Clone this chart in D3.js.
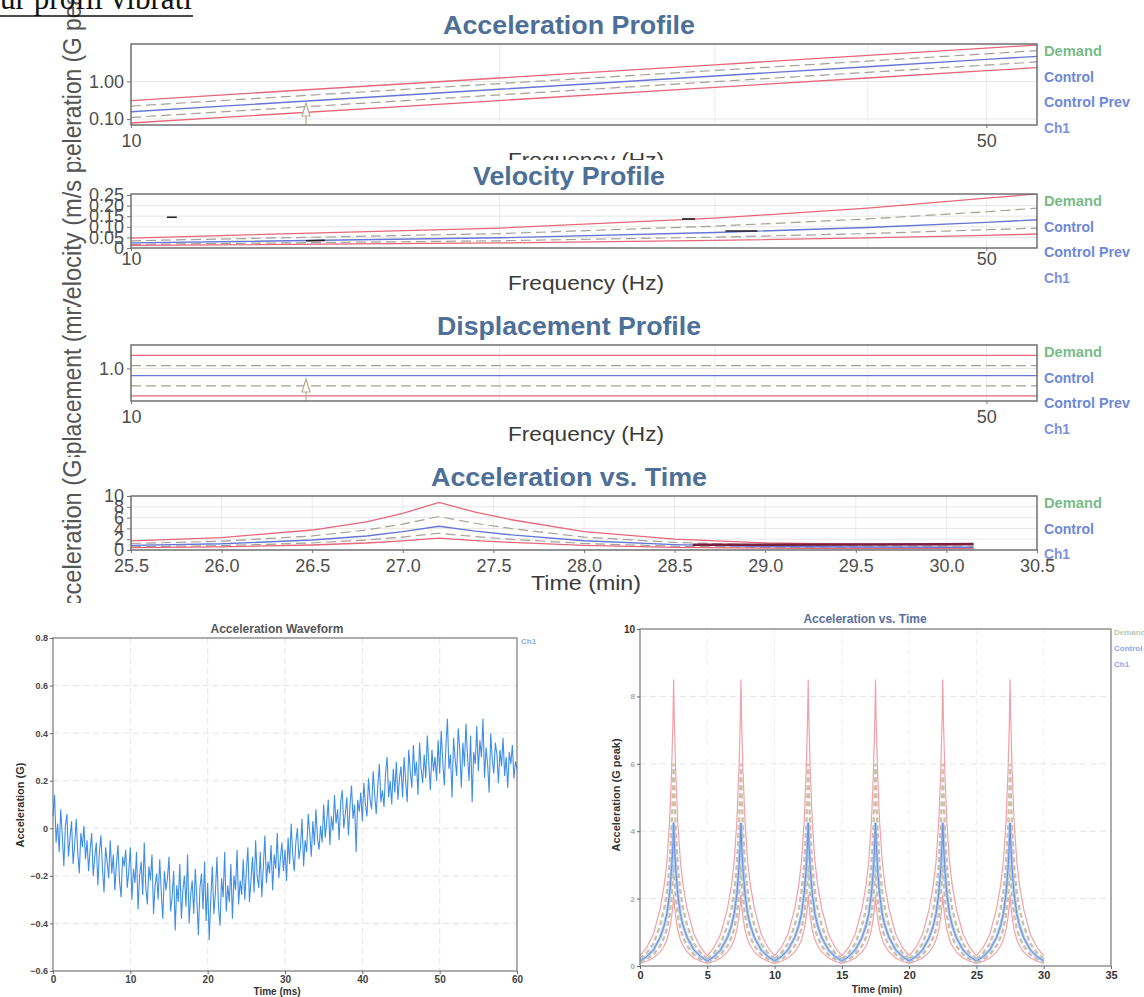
<!DOCTYPE html>
<html>
<head>
<meta charset="utf-8">
<script src="https://cdn.jsdelivr.net/npm/d3@7"></script>
<style>
  body { margin: 0; background: #fff; }
  svg { display: block; font-family: "Liberation Sans", Arial, sans-serif; }
</style>
</head>
<body>
<script>
// values

// sine profiles, frequency in Hz
var profFreq = [10, 20, 30, 40, 50, 55];
var accAbortHi = [0.31, 1.24, 2.79, 4.96, 7.75, 9.38];
var accAlarmHi = [0.22, 0.88, 1.97, 3.5, 5.48, 6.63];
var accDemand = [0.155, 0.62, 1.4, 2.48, 3.88, 4.69];
var accAlarmLo = [0.11, 0.44, 0.99, 1.75, 2.74, 3.32];
var accAbortLo = [0.078, 0.31, 0.7, 1.24, 1.94, 2.34];

var velAbortHi = [0.047, 0.094, 0.141, 0.188, 0.235, 0.255];
var velAlarmHi = [0.034, 0.068, 0.103, 0.137, 0.171, 0.188];
var velDemand = [0.024, 0.048, 0.073, 0.097, 0.121, 0.133];
var velAlarmLo = [0.017, 0.034, 0.051, 0.068, 0.086, 0.094];
var velAbortLo = [0.012, 0.024, 0.036, 0.048, 0.06, 0.066];
// stray Ch1 fragments on the velocity plot [freq, value]
var velCh1Frags = [
  [[10.7, 0.145], [10.9, 0.145]],
  [[13.9, 0.034], [14.4, 0.036]],
  [[28.2, 0.137], [28.9, 0.137]],
  [[30.6, 0.08], [32.5, 0.08]]
];

var dispAbortHi = [1.56, 1.56, 1.56, 1.56, 1.56, 1.56];
var dispAlarmHi = [1.1, 1.1, 1.1, 1.1, 1.1, 1.1];
var dispDemand = [0.78, 0.78, 0.78, 0.78, 0.78, 0.78];
var dispAlarmLo = [0.55, 0.55, 0.55, 0.55, 0.55, 0.55];
var dispAbortLo = [0.39, 0.39, 0.39, 0.39, 0.39, 0.39];
var cursorFreq = 13.9;

// acceleration vs time, zoomed (min)
var zTime = [25.5, 26.0, 26.5, 26.8, 27.0, 27.2, 27.4, 27.6, 28.0, 28.5, 29.0, 29.5, 30.0, 30.15];
var zAbortHi = [1.7, 2.3, 3.7, 5.2, 6.8, 8.8, 7.0, 5.6, 3.4, 2.0, 1.3, 1.1, 1.0, 1.0];
var zAlarmHi = [1.2, 1.63, 2.6, 3.7, 4.8, 6.2, 4.95, 3.95, 2.4, 1.4, 0.92, 0.78, 0.7, 0.7];
var zDemand = [0.85, 1.15, 1.85, 2.6, 3.4, 4.4, 3.5, 2.8, 1.7, 1.0, 0.65, 0.55, 0.5, 0.5];
var zAlarmLo = [0.6, 0.81, 1.3, 1.84, 2.4, 3.1, 2.47, 1.98, 1.2, 0.7, 0.46, 0.39, 0.35, 0.35];
var zAbortLo = [0.43, 0.58, 0.93, 1.3, 1.7, 2.2, 1.75, 1.4, 0.85, 0.5, 0.33, 0.28, 0.25, 0.25];
var zCh1Time = [28.6, 29.0, 29.5, 30.0, 30.15];
var zCh1 = [0.95, 0.95, 1.0, 1.05, 1.1];

// acceleration waveform, one sample every 0.2 ms
var waveStep = 0.2;
var wave = [
  0.05, 0.14, -0.06, 0.02, -0.1, 0.08, -0.03, -0.16, 0.01, 0.06, -0.12, -0.04, 0.03, -0.15, -0.07, 0.04, -0.1, -0.19, -0.02, -0.08, 0.01, -0.13, -0.05, -0.18, -0.09,
  -0.02, -0.2, -0.12, -0.06, -0.24, -0.1, -0.03, -0.17, -0.27, -0.08, -0.14, -0.21, -0.05, -0.19, -0.11, -0.26, -0.15, -0.07, -0.22, -0.29, -0.12, -0.16, -0.09, -0.25, -0.18,
  -0.08, -0.3, -0.17, -0.23, -0.1, -0.34, -0.2, -0.14, -0.28, -0.06, -0.25, -0.32, -0.16, -0.22, -0.11, -0.36, -0.24, -0.19, -0.3, -0.13, -0.27, -0.38, -0.18, -0.26, -0.21,
  -0.12, -0.35, -0.29, -0.18, -0.43, -0.24, -0.31, -0.15, -0.38, -0.26, -0.2, -0.33, -0.11, -0.4, -0.28, -0.22, -0.36, -0.17, -0.3, -0.45, -0.25, -0.19, -0.34, -0.14, -0.39,
  -0.23, -0.47, -0.3, -0.16, -0.36, -0.27, -0.12, -0.33, -0.41, -0.21, -0.29, -0.1, -0.35, -0.24, -0.31, -0.15, -0.38, -0.2, -0.26, -0.09, -0.32, -0.22, -0.28, -0.13, -0.3,
  -0.18, -0.08, -0.31, -0.22, -0.12, -0.27, -0.05, -0.2, -0.25, -0.1, -0.29, -0.16, -0.03, -0.23, -0.14, -0.19, -0.07, -0.26, -0.11, -0.17, -0.02, -0.21, -0.13, -0.06, -0.18,
  -0.09, -0.22, -0.04, -0.15, 0.02, -0.11, -0.18, -0.06, 0.0, -0.13, -0.08, 0.04, -0.16, -0.05, -0.1, 0.06, -0.02, -0.12, 0.03, -0.07, 0.08, -0.04, -0.09, 0.01, -0.06,
  0.1, -0.04, 0.03, 0.12, -0.07, 0.05, -0.01, 0.14, 0.02, 0.08, -0.05, 0.11, 0.16, 0.0, 0.06, 0.13, -0.03, 0.09, 0.18, 0.04, 0.1, -0.1, 0.12, 0.07, 0.15,
  0.03, 0.19, 0.1, 0.05, 0.21, 0.12, 0.08, 0.24, 0.14, 0.06, 0.18, 0.27, 0.11, 0.16, 0.09, 0.23, 0.3, 0.13, 0.2, 0.1, 0.25, 0.15, 0.28, 0.12, 0.21,
  0.26, 0.13, 0.3, 0.2, 0.11, 0.33, 0.24, 0.17, 0.35, 0.22, 0.28, 0.14, 0.36, 0.25, 0.19, 0.31, 0.21, 0.39, 0.27, 0.16, 0.33, 0.24, 0.3, 0.2, 0.37,
  0.23, 0.41, 0.28, 0.18, 0.34, 0.46, 0.25, 0.31, 0.13, 0.38, 0.29, 0.22, 0.42, 0.33, 0.17, 0.36, 0.26, 0.44, 0.3, 0.2, 0.39, 0.11, 0.32, 0.27, 0.43,
  0.24, 0.37, 0.3, 0.46, 0.21, 0.34, 0.27, 0.15, 0.4, 0.29, 0.23, 0.36, 0.31, 0.19, 0.33, 0.26, 0.38, 0.22, 0.3, 0.17, 0.32, 0.27, 0.35, 0.21, 0.28, 0.25
];

// acceleration vs time over the whole test: one sweep profile, repeated at each sweep start
var sweepStarts = [0, 5, 10, 15, 20, 25];
var cycTime = [0, 0.5, 1.0, 1.5, 1.8, 2.0, 2.2, 2.35, 2.45, 2.5, 2.55, 2.65, 2.8, 3.0, 3.2, 3.5, 4.0, 4.5, 5.0];
var cycAbortHi = [0.3, 0.55, 0.95, 1.7, 2.4, 3.1, 4.3, 5.8, 7.3, 8.5, 7.3, 5.8, 4.3, 3.1, 2.4, 1.7, 0.95, 0.55, 0.3];
var cycAlarmHi = [0.21, 0.39, 0.67, 1.2, 1.7, 2.2, 3.0, 4.1, 5.2, 6.0, 5.2, 4.1, 3.0, 2.2, 1.7, 1.2, 0.67, 0.39, 0.21];
var cycDemand = [0.15, 0.28, 0.48, 0.85, 1.2, 1.55, 2.15, 2.9, 3.65, 4.25, 3.65, 2.9, 2.15, 1.55, 1.2, 0.85, 0.48, 0.28, 0.15];
var cycAlarmLo = [0.11, 0.2, 0.34, 0.6, 0.85, 1.1, 1.5, 2.05, 2.6, 3.0, 2.6, 2.05, 1.5, 1.1, 0.85, 0.6, 0.34, 0.2, 0.11];
var cycAbortLo = [0.075, 0.14, 0.24, 0.42, 0.6, 0.78, 1.08, 1.45, 1.82, 2.12, 1.82, 1.45, 1.08, 0.78, 0.6, 0.42, 0.24, 0.14, 0.075];

var legendTop = ["Demand", "Control", "Control Prev", "Ch1"];
var legendTime = ["Demand", "Control", "Ch1"];
var legendColor = {"Demand": "#79bb88", "Control": "#6e88d8", "Control Prev": "#6e88d8", "Ch1": "#808fe2"};
var legendLen = {"Demand": 58, "Control": 50, "Control Prev": 86, "Ch1": 26};

var width = 1144, height = 997;
var plotLeft = 131, plotRight = 1037;

var styles = {
  abort: {stroke: "#e6677a", w: 1.3, dash: null},
  alarm: {stroke: "#a6a098", w: 1.2, dash: "10,5"},
  demand: {stroke: "#6676d6", w: 1.4, dash: null},
  ch1: {stroke: "#222", w: 1.6, dash: null}
};

var svg = d3.select("body").append("svg")
    .attr("width", width)
    .attr("height", height);

function zip(xs, ys) {
  return xs.map(function(v, i) { return [v, ys[i]]; });
}

function topPanel(p) {
  var clipId = "clip-" + p.id;
  svg.append("clipPath").attr("id", clipId)
    .append("rect")
      .attr("x", 0).attr("y", p.clipTop)
      .attr("width", width).attr("height", p.clipBottom - p.clipTop);

  var g = svg.append("g").attr("clip-path", "url(#" + clipId + ")");
  var x = p.x, y = p.y;

  // plot clip so lines stay inside the frame
  var innerId = "inner-" + p.id;
  svg.append("clipPath").attr("id", innerId)
    .append("rect")
      .attr("x", plotLeft).attr("y", p.boxTop)
      .attr("width", plotRight - plotLeft).attr("height", p.boxBottom - p.boxTop);

  // faint grid
  g.append("g").selectAll("line")
    .data(p.yGrid)
    .enter().append("line")
      .attr("x1", plotLeft).attr("x2", plotRight)
      .attr("y1", function(d) { return y(d); })
      .attr("y2", function(d) { return y(d); })
      .attr("stroke", "#e6e6e6");
  g.append("g").selectAll("line")
    .data(p.xGrid)
    .enter().append("line")
      .attr("y1", p.boxTop).attr("y2", p.boxBottom)
      .attr("x1", function(d) { return x(d); })
      .attr("x2", function(d) { return x(d); })
      .attr("stroke", "#ececec");

  var line = d3.line()
    .x(function(d) { return x(d[0]); })
    .y(function(d) { return y(d[1]); });

  var lines = g.append("g").attr("clip-path", "url(#" + innerId + ")");
  p.series.forEach(function(s) {
    var st = styles[s.kind];
    lines.append("path")
      .datum(zip(s.xs, s.ys))
      .attr("d", line)
      .attr("fill", "none")
      .attr("stroke", st.stroke)
      .attr("stroke-width", st.w)
      .attr("stroke-dasharray", st.dash);
  });
  (p.frags || []).forEach(function(f) {
    lines.append("path")
      .datum(f)
      .attr("d", line)
      .attr("fill", "none")
      .attr("stroke", styles.ch1.stroke)
      .attr("stroke-width", styles.ch1.w);
  });

  if (p.cursor) {
    var cx = x(p.cursor), b = p.boxBottom;
    lines.append("path")
      .attr("d", "M" + cx + "," + (b - 22) + "L" + (cx - 4) + "," + (b - 9) + "L" + (cx + 4) + "," + (b - 9) + "Z" +
                 "M" + cx + "," + (b - 9) + "V" + b)
      .attr("fill", "#fff")
      .attr("stroke", "#b8ab92")
      .attr("stroke-width", 1.2);
  }

  // frame
  g.append("rect")
    .attr("x", plotLeft).attr("y", p.boxTop)
    .attr("width", plotRight - plotLeft).attr("height", p.boxBottom - p.boxTop)
    .attr("fill", "none").attr("stroke", "#666").attr("stroke-width", 1.4);

  var yAxis = g.append("g")
    .attr("transform", "translate(" + plotLeft + ",0)")
    .call(d3.axisLeft(y).tickValues(p.yTicks).tickFormat(p.yFormat).tickSize(4).tickPadding(3));
  var xAxis = g.append("g")
    .attr("transform", "translate(0," + p.boxBottom + ")")
    .call(d3.axisBottom(x).tickValues(p.xTicks).tickFormat(p.xFormat).tickSize(3).tickPadding(p.xPad));
  [yAxis, xAxis].forEach(function(a) {
    a.select(".domain").remove();
    a.selectAll("line").attr("stroke", "#777");
    a.selectAll("text")
      .attr("font-size", 18)
      .attr("font-family", "'Liberation Sans', Arial, sans-serif")
      .attr("fill", "#4e4e4e");
  });

  g.append("text")
    .attr("x", 569).attr("y", p.titleY)
    .attr("text-anchor", "middle")
    .attr("font-size", 25).attr("font-weight", "bold")
    .attr("fill", "#4d6f98")
    .attr("textLength", p.titleLen).attr("lengthAdjust", "spacingAndGlyphs")
    .text(p.title);

  g.append("text")
    .attr("x", 586).attr("y", p.xLabelY)
    .attr("text-anchor", "middle")
    .attr("font-size", 21)
    .attr("fill", "#3a3a3a")
    .attr("textLength", p.xLabelLen).attr("lengthAdjust", "spacingAndGlyphs")
    .text(p.xLabel);

  g.append("text")
    .attr("transform", "translate(81," + p.yLabelMid + ") rotate(-90)")
    .attr("text-anchor", "middle")
    .attr("font-size", 25)
    .attr("fill", "#555")
    .attr("textLength", p.yLabelLen).attr("lengthAdjust", "spacingAndGlyphs")
    .text(p.yLabel);

  g.selectAll(".legend")
    .data(p.legend)
    .enter().append("text")
      .attr("x", 1044)
      .attr("y", function(d, i) { return p.legendY + i * 25.5; })
      .attr("font-size", 14).attr("font-weight", "bold")
      .attr("fill", function(d) { return legendColor[d]; })
      .attr("textLength", function(d) { return legendLen[d]; })
      .attr("lengthAdjust", "spacingAndGlyphs")
      .text(function(d) { return d; });
}

var logFreq = d3.scaleLog().domain([10, 55]).range([plotLeft, plotRight]);

function profileSeries(hi2, hi1, dem, lo1, lo2) {
  return [
    {kind: "alarm", xs: profFreq, ys: hi1},
    {kind: "alarm", xs: profFreq, ys: lo1},
    {kind: "abort", xs: profFreq, ys: hi2},
    {kind: "abort", xs: profFreq, ys: lo2},
    {kind: "demand", xs: profFreq, ys: dem}
  ];
}

topPanel({
  id: "acc", clipTop: -10, clipBottom: 160, boxTop: 44, boxBottom: 125,
  x: logFreq, y: d3.scaleLog().domain([0.069, 10]).range([125, 44]),
  yTicks: [0.1, 1], yFormat: d3.format(".2f"), yGrid: [0.1, 1],
  xTicks: [10, 50], xFormat: d3.format("d"), xGrid: [20, 30, 40, 50], xPad: 6,
  title: "Acceleration Profile", titleY: 34, titleLen: 252,
  xLabel: "Frequency (Hz)", xLabelY: 167, xLabelLen: 156,
  yLabel: "Acceleration (G peak)", yLabelMid: 84, yLabelLen: 220,
  legend: legendTop, legendY: 56, cursor: cursorFreq,
  series: profileSeries(accAbortHi, accAlarmHi, accDemand, accAlarmLo, accAbortLo)
});

topPanel({
  id: "vel", clipTop: 162, clipBottom: 307, boxTop: 194, boxBottom: 248,
  x: logFreq, y: d3.scaleLinear().domain([0, 0.25]).range([248, 195]),
  yTicks: [0, 0.05, 0.1, 0.15, 0.2, 0.25], yFormat: function(d) { return d === 0 ? "0" : d3.format(".2f")(d); },
  yGrid: [0.05, 0.1, 0.15, 0.2],
  xTicks: [10, 50], xFormat: d3.format("d"), xGrid: [20, 30, 40, 50], xPad: 1,
  title: "Velocity Profile", titleY: 185, titleLen: 192,
  xLabel: "Frequency (Hz)", xLabelY: 290, xLabelLen: 156,
  yLabel: "Velocity (m/s peak)", yLabelMid: 214, yLabelLen: 200,
  legend: legendTop, legendY: 206, frags: velCh1Frags,
  series: profileSeries(velAbortHi, velAlarmHi, velDemand, velAlarmLo, velAbortLo)
});

topPanel({
  id: "disp", clipTop: 307, clipBottom: 457, boxTop: 345, boxBottom: 401,
  x: logFreq, y: d3.scaleLog().domain([0.327, 2.23]).range([401, 345]),
  yTicks: [1], yFormat: d3.format(".1f"), yGrid: [1],
  xTicks: [10, 50], xFormat: d3.format("d"), xGrid: [20, 30, 40, 50], xPad: 6,
  title: "Displacement Profile", titleY: 335, titleLen: 264,
  xLabel: "Frequency (Hz)", xLabelY: 441, xLabelLen: 156,
  yLabel: "Displacement (mm peak)", yLabelMid: 360, yLabelLen: 255,
  legend: legendTop, legendY: 357, cursor: cursorFreq,
  series: profileSeries(dispAbortHi, dispAlarmHi, dispDemand, dispAlarmLo, dispAbortLo)
});

topPanel({
  id: "time", clipTop: 457, clipBottom: 603, boxTop: 496, boxBottom: 550,
  x: d3.scaleLinear().domain([25.5, 30.5]).range([plotLeft, plotRight]),
  y: d3.scaleLinear().domain([0, 10]).range([550, 496]),
  yTicks: [0, 2, 4, 6, 8, 10], yFormat: d3.format("d"), yGrid: [2, 4, 6, 8],
  xTicks: d3.range(25.5, 30.51, 0.5), xFormat: d3.format(".1f"),
  xGrid: d3.range(26, 30.01, 0.5), xPad: 6,
  title: "Acceleration vs. Time", titleY: 486, titleLen: 276,
  xLabel: "Time (min)", xLabelY: 590, xLabelLen: 110,
  yLabel: "Acceleration (G peak)", yLabelMid: 508, yLabelLen: 228,
  legend: legendTime, legendY: 508,
  series: [
    {kind: "alarm", xs: zTime, ys: zAlarmHi},
    {kind: "alarm", xs: zTime, ys: zAlarmLo},
    {kind: "abort", xs: zTime, ys: zAbortHi},
    {kind: "abort", xs: zTime, ys: zAbortLo},
    {kind: "demand", xs: zTime, ys: zDemand}
  ]
});

// the measured trace at the tail of the zoomed time plot
var zx = d3.scaleLinear().domain([25.5, 30.5]).range([plotLeft, plotRight]);
var zy = d3.scaleLinear().domain([0, 10]).range([550, 496]);
svg.append("path")
  .datum(zip(zCh1Time, zCh1))
  .attr("d", d3.line().x(function(d) { return zx(d[0]); }).y(function(d) { return zy(d[1]); }))
  .attr("fill", "none").attr("stroke", "#7a1f3c").attr("stroke-width", 2.5);

// heading of the report, cut by the top of the scan
svg.append("text")
  .attr("x", 0).attr("y", 9)
  .attr("font-family", "'Liberation Serif', 'DejaVu Serif', serif")
  .attr("font-size", 34)
  .attr("fill", "#111")
  .attr("textLength", 192).attr("lengthAdjust", "spacingAndGlyphs")
  .text("ur profil vibrati");
svg.append("line")
  .attr("x1", 0).attr("x2", 193).attr("y1", 16).attr("y2", 16)
  .attr("stroke", "#111").attr("stroke-width", 1.5);

// ---------- bottom left: acceleration waveform ----------
var wl = {left: 53, right: 517, top: 638, bottom: 971};
var wx = d3.scaleLinear().domain([0, 60]).range([wl.left, wl.right]);
var wy = d3.scaleLinear().domain([-0.6, 0.8]).range([wl.bottom, wl.top]);
var wg = svg.append("g");

wg.append("g").selectAll("line")
  .data([-0.4, -0.2, 0, 0.2, 0.4, 0.6])
  .enter().append("line")
    .attr("x1", wl.left).attr("x2", wl.right)
    .attr("y1", function(d) { return wy(d); }).attr("y2", function(d) { return wy(d); })
    .attr("stroke", "#e2e2e2").attr("stroke-dasharray", "6,4");
wg.append("g").selectAll("line")
  .data([10, 20, 30, 40, 50])
  .enter().append("line")
    .attr("y1", wl.top).attr("y2", wl.bottom)
    .attr("x1", function(d) { return wx(d); }).attr("x2", function(d) { return wx(d); })
    .attr("stroke", "#e6e6e6").attr("stroke-dasharray", "6,4");

wg.append("path")
  .datum(wave)
  .attr("d", d3.line()
    .x(function(d, i) { return wx(i * waveStep); })
    .y(function(d) { return wy(d); }))
  .attr("fill", "none")
  .attr("stroke", "#3f8fe4")
  .attr("stroke-width", 1.1);

wg.append("rect")
  .attr("x", wl.left).attr("y", wl.top)
  .attr("width", wl.right - wl.left).attr("height", wl.bottom - wl.top)
  .attr("fill", "none").attr("stroke", "#777").attr("stroke-width", 1.2);

var wya = wg.append("g").attr("transform", "translate(" + wl.left + ",0)")
  .call(d3.axisLeft(wy).tickValues([-0.6, -0.4, -0.2, 0, 0.2, 0.4, 0.6, 0.8]).tickFormat(d3.format("")).tickSize(3).tickPadding(2));
var wxa = wg.append("g").attr("transform", "translate(0," + wl.bottom + ")")
  .call(d3.axisBottom(wx).tickValues([0, 10, 20, 30, 40, 50, 60]).tickSize(3).tickPadding(2));
[wya, wxa].forEach(function(a) {
  a.select(".domain").remove();
  a.selectAll("line").attr("stroke", "#666");
  a.selectAll("text").attr("font-size", 9).attr("font-weight", "bold").attr("fill", "#444")
    .attr("font-family", "'Liberation Sans', Arial, sans-serif");
});
wxa.selectAll("text").attr("font-size", 10);

wg.append("text").attr("x", 277).attr("y", 633).attr("text-anchor", "middle")
  .attr("font-size", 12).attr("font-weight", "bold").attr("fill", "#555")
  .text("Acceleration Waveform");
wg.append("text").attr("x", 277).attr("y", 995).attr("text-anchor", "middle")
  .attr("font-size", 10).attr("font-weight", "bold").attr("fill", "#333")
  .text("Time (ms)");
wg.append("text").attr("transform", "translate(24,805) rotate(-90)").attr("text-anchor", "middle")
  .attr("font-size", 11).attr("font-weight", "bold").attr("fill", "#333")
  .text("Acceleration (G)");
wg.append("text").attr("x", 521).attr("y", 644)
  .attr("font-size", 8).attr("font-weight", "bold").attr("fill", "#8fa8f0")
  .text("Ch1");

// ---------- bottom right: acceleration vs time, full test ----------
var tl = {left: 640, right: 1111, top: 629, bottom: 966};
var tx = d3.scaleLinear().domain([0, 35]).range([tl.left, tl.right]);
var ty = d3.scaleLinear().domain([0, 10]).range([tl.bottom, tl.top]);
var tg = svg.append("g");

tg.append("g").selectAll("line")
  .data([2, 4, 6, 8])
  .enter().append("line")
    .attr("x1", tl.left).attr("x2", tl.right)
    .attr("y1", function(d) { return ty(d); }).attr("y2", function(d) { return ty(d); })
    .attr("stroke", "#e4e4e4").attr("stroke-dasharray", "6,4");
tg.append("g").selectAll("line")
  .data([5, 10, 15, 20, 25, 30])
  .enter().append("line")
    .attr("y1", tl.top).attr("y2", tl.bottom)
    .attr("x1", function(d) { return tx(d); }).attr("x2", function(d) { return tx(d); })
    .attr("stroke", "#efefef").attr("stroke-dasharray", "6,4");

var cycleLines = [
  {ys: cycAbortHi, stroke: "#f2a1aa", w: 1.2, dash: null},
  {ys: cycAbortLo, stroke: "#f2a1aa", w: 1.2, dash: null},
  {ys: cycAlarmHi, stroke: "#cbc2a8", w: 2.4, dash: "5,3"},
  {ys: cycAlarmLo, stroke: "#cbc2a8", w: 2.4, dash: "5,3"},
  {ys: cycDemand, stroke: "#aac8f2", w: 3, dash: null},
  {ys: cycDemand, stroke: "#6d8de0", w: 1, dash: null}
];
sweepStarts.forEach(function(t0) {
  cycleLines.forEach(function(c) {
    tg.append("path")
      .datum(zip(cycTime, c.ys))
      .attr("d", d3.line()
        .x(function(d) { return tx(t0 + d[0]); })
        .y(function(d) { return ty(d[1]); }))
      .attr("fill", "none")
      .attr("stroke", c.stroke)
      .attr("stroke-width", c.w)
      .attr("stroke-dasharray", c.dash);
  });
});

tg.append("rect")
  .attr("x", tl.left).attr("y", tl.top)
  .attr("width", tl.right - tl.left).attr("height", tl.bottom - tl.top)
  .attr("fill", "none").attr("stroke", "#777").attr("stroke-width", 1.2);

var tya = tg.append("g").attr("transform", "translate(" + tl.left + ",0)")
  .call(d3.axisLeft(ty).tickValues([0, 2, 4, 6, 8, 10]).tickSize(3).tickPadding(2));
var txa = tg.append("g").attr("transform", "translate(0," + tl.bottom + ")")
  .call(d3.axisBottom(tx).tickValues([0, 5, 10, 15, 20, 25, 30, 35]).tickSize(3).tickPadding(2));
[tya, txa].forEach(function(a) {
  a.select(".domain").remove();
  a.selectAll("line").attr("stroke", "#666");
  a.selectAll("text").attr("font-weight", "bold")
    .attr("font-family", "'Liberation Sans', Arial, sans-serif");
});
txa.selectAll("text").attr("font-size", 11).attr("fill", "#333");
tya.selectAll("text")
  .attr("font-size", function(d) { return d === 10 ? 10 : 8; })
  .attr("fill", function(d) { return d === 10 ? "#333" : "#aaa"; });

tg.append("text").attr("x", 865).attr("y", 623).attr("text-anchor", "middle")
  .attr("font-size", 12).attr("font-weight", "bold").attr("fill", "#5a6e9e")
  .text("Acceleration vs. Time");
tg.append("text").attr("x", 877).attr("y", 993).attr("text-anchor", "middle")
  .attr("font-size", 10).attr("font-weight", "bold").attr("fill", "#333")
  .text("Time (min)");
tg.append("text").attr("transform", "translate(620,795) rotate(-90)").attr("text-anchor", "middle")
  .attr("font-size", 11).attr("font-weight", "bold").attr("fill", "#333")
  .text("Acceleration (G peak)");
tg.selectAll(".lg")
  .data(legendTime)
  .enter().append("text")
    .attr("x", 1114)
    .attr("y", function(d, i) { return 635 + i * 16; })
    .attr("font-size", 8).attr("font-weight", "bold")
    .attr("fill", function(d) { return d === "Demand" ? "#b6c9ba" : "#8ea6ea"; })
    .text(function(d) { return d; });
</script>
</body>
</html>
